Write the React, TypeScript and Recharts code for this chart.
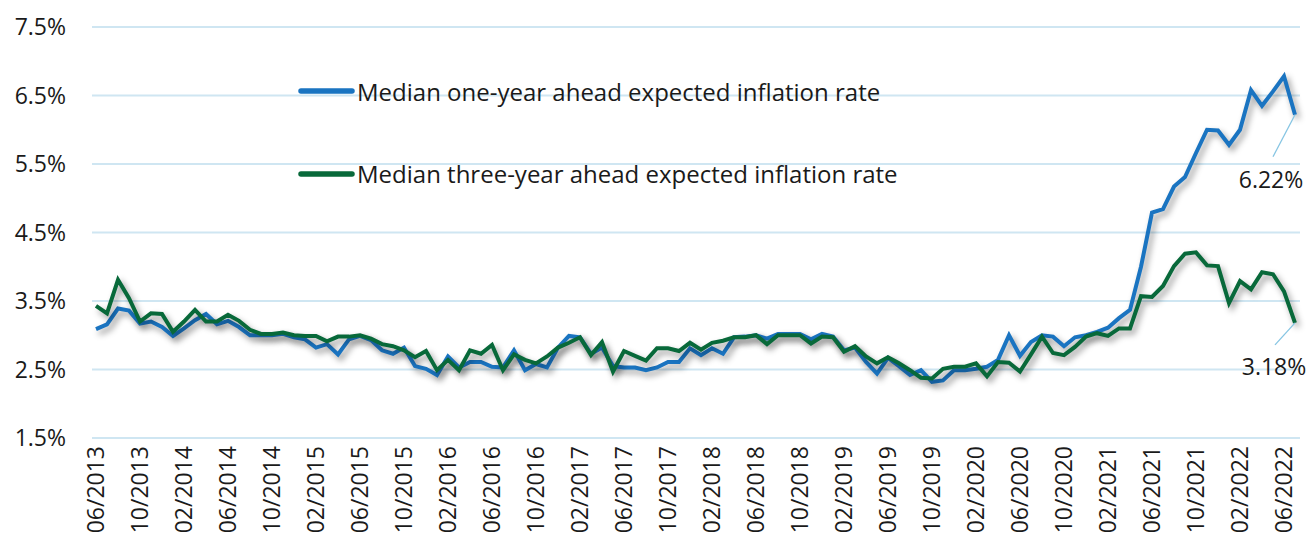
import React from "react";
import { LineChart, Line, XAxis, YAxis, CartesianGrid, Legend } from "recharts";

// monthly survey medians, 06/2013 .. 07/2022 (percent)
const oneYearAhead = [
  3.09, 3.16, 3.39, 3.36, 3.17, 3.2, 3.12, 2.99, 3.1, 3.22, 3.31, 3.16,
  3.21, 3.12, 3.0, 3.0, 3.0, 3.02, 2.97, 2.94, 2.82, 2.87, 2.72, 2.94,
  2.99, 2.93, 2.78, 2.73, 2.82, 2.55, 2.51, 2.42, 2.69, 2.53, 2.61, 2.61,
  2.54, 2.53, 2.78, 2.49, 2.58, 2.53, 2.82, 2.99, 2.97, 2.73, 2.82, 2.55,
  2.53, 2.53, 2.49, 2.53, 2.61, 2.61, 2.81, 2.71, 2.81, 2.73, 2.97, 2.98,
  3.0, 2.95, 3.02, 3.02, 3.02, 2.94, 3.02, 2.98, 2.78, 2.82, 2.61, 2.44,
  2.67, 2.55, 2.42, 2.49, 2.32, 2.34, 2.49, 2.49, 2.51, 2.54, 2.64, 3.0,
  2.7, 2.9, 3.0, 2.98, 2.84, 2.97, 3.0, 3.05, 3.11, 3.25, 3.37, 4.0,
  4.79, 4.84, 5.17, 5.31, 5.66, 6.0, 5.99, 5.78, 6.0, 6.58, 6.35, 6.56,
  6.78, 6.22,
];

const threeYearAhead = [
  3.43, 3.32, 3.81, 3.54, 3.2, 3.32, 3.31, 3.05, 3.2, 3.37, 3.2, 3.2,
  3.3, 3.21, 3.08, 3.02, 3.02, 3.04, 3.0, 2.99, 2.99, 2.91, 2.98, 2.98,
  3.0, 2.95, 2.87, 2.84, 2.78, 2.68, 2.77, 2.49, 2.64, 2.49, 2.78, 2.73,
  2.86, 2.49, 2.72, 2.64, 2.59, 2.69, 2.82, 2.89, 2.97, 2.71, 2.9, 2.47,
  2.77, 2.7, 2.63, 2.81, 2.81, 2.77, 2.89, 2.79, 2.89, 2.92, 2.97, 2.97,
  3.0, 2.87, 3.0, 3.0, 3.0, 2.88, 2.98, 2.97, 2.76, 2.84, 2.69, 2.59,
  2.68, 2.59, 2.49, 2.38, 2.37, 2.51, 2.54, 2.54, 2.59, 2.4, 2.61, 2.6,
  2.47, 2.72, 2.98, 2.74, 2.71, 2.83, 2.98, 3.03, 2.99, 3.1, 3.1, 3.57,
  3.56, 3.72, 4.01, 4.19, 4.21, 4.02, 4.01, 3.47, 3.79, 3.67, 3.92, 3.89,
  3.64, 3.18,
];

const yTicks = [1.5, 2.5, 3.5, 4.5, 5.5, 6.5, 7.5];

const seriesNames = [
  "Median one-year ahead expected inflation rate",
  "Median three-year ahead expected inflation rate",
];
const seriesColors = ["#1a74c1", "#08693a"];

const firstYear = 2013;
const firstMonth = 6;

const months = oneYearAhead.map((_, i) => {
  const k = firstMonth - 1 + i;
  const m = (k % 12) + 1;
  return `${String(m).padStart(2, "0")}/${firstYear + Math.floor(k / 12)}`;
});

const data = months.map((month, i) => ({
  month,
  oneYear: oneYearAhead[i],
  threeYear: threeYearAhead[i],
}));

const FONT = "'Open Sans', sans-serif";
const TEXT = "#1a1a1a";

function MonthTick({ x, y, payload }: any) {
  return (
    <g transform={`translate(${x},${y})`}>
      <text
        transform="rotate(-90)"
        x={0}
        y={0}
        dy="0.36em"
        textAnchor="end"
        fill={TEXT}
        fontSize={23}
        fontFamily={FONT}
      >
        {payload.value}
      </text>
    </g>
  );
}

// data label on the last point with a thin leader line
const endLabel = (lx: number, ly: number, tx: number, ty: number) => (props: any) => {
  const { x, y, index, value } = props;
  if (index !== data.length - 1) return <g />;
  return (
    <g>
      <line x1={x} y1={y} x2={x + lx} y2={y + ly} stroke="#86c5e3" strokeWidth={1.3} />
      <text
        x={x + tx}
        y={y + ty}
        textAnchor="middle"
        dy="0.36em"
        fill={TEXT}
        fontSize={23}
        fontFamily={FONT}
      >
        {`${Number(value).toFixed(2)}%`}
      </text>
    </g>
  );
};

function LegendBox() {
  return (
    <div style={{ fontFamily: FONT, fontSize: 24, color: TEXT }}>
      {seriesNames.map((name, i) => (
        <div
          key={name}
          style={{ display: "flex", alignItems: "center", height: 30, marginBottom: i === 0 ? 52.6 : 0, whiteSpace: "nowrap" }}
        >
          <svg width={59} height={10}>
            <line x1={3} y1={5} x2={54} y2={5} stroke={seriesColors[i]} strokeWidth={5.5} strokeLinecap="round" />
          </svg>
          <span>{name}</span>
        </div>
      ))}
    </div>
  );
}

export default function App() {
  return (
    <div style={{ position: "absolute", left: 0, top: 0, width: 1310, height: 545, overflow: "hidden", background: "#fff" }}>
      <style>{`.recharts-line-curve { filter: drop-shadow(3px 4px 3px rgba(0,0,0,0.4)); }`}</style>
      <LineChart width={1310} height={600} data={data} margin={{ top: 27, right: 10, left: 12, bottom: 62 }}>
        <CartesianGrid vertical={false} stroke="#cfe6f2" strokeWidth={2} />
        <XAxis
          dataKey="month"
          interval={3}
          axisLine={false}
          tickLine={false}
          height={100}
          padding={{ left: 4, right: 5 }}
          tick={<MonthTick />}
        />
        <YAxis
          domain={[1.5, 7.5]}
          ticks={yTicks}
          width={80}
          axisLine={false}
          tickLine={false}
          tickMargin={20}
          tickFormatter={(v: number) => `${v.toFixed(1)}%`}
          tick={{ fill: TEXT, fontSize: 23, fontFamily: FONT }}
        />
        <Legend
          layout="vertical"
          verticalAlign="middle"
          align="center"
          wrapperStyle={{ left: 298, top: 76, width: 760 }}
          content={<LegendBox />}
        />
        <Line
          type="linear"
          dataKey="oneYear"
          name={seriesNames[0]}
          stroke={seriesColors[0]}
          strokeWidth={4}
          dot={false}
          isAnimationActive={false}
          label={endLabel(-22, 42, -24, 65)}
        />
        <Line
          type="linear"
          dataKey="threeYear"
          name={seriesNames[1]}
          stroke={seriesColors[1]}
          strokeWidth={4}
          dot={false}
          isAnimationActive={false}
          label={endLabel(-20, 22, -21, 44)}
        />
      </LineChart>
    </div>
  );
}
